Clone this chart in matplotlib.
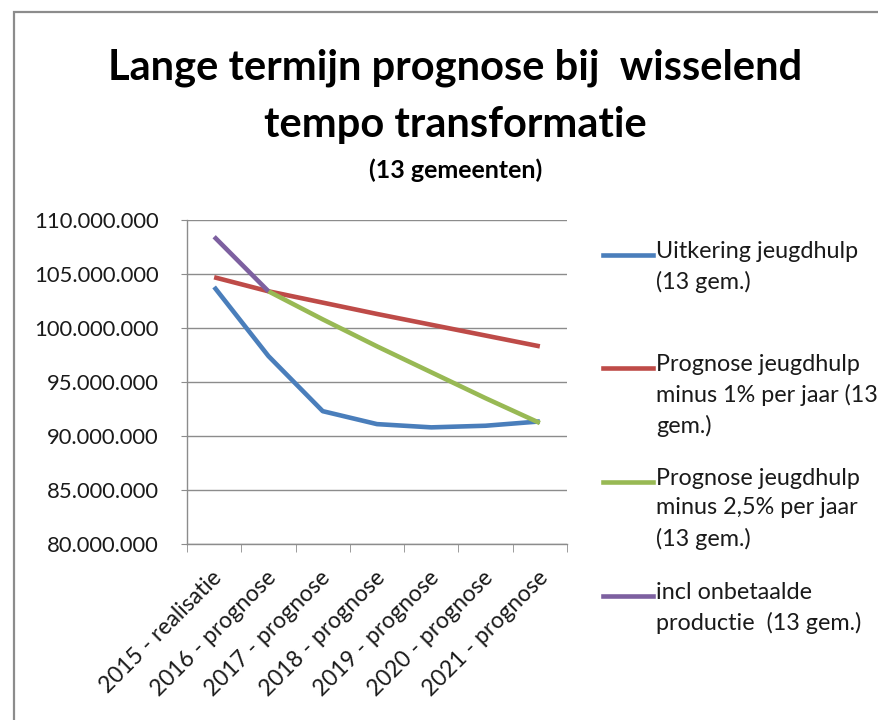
import matplotlib
matplotlib.use("Agg")
import matplotlib.pyplot as plt
import matplotlib.transforms as mtrans
from matplotlib.lines import Line2D
from matplotlib.patches import Rectangle
import numpy as np

categories = ["2015 - realisatie", "2016 - prognose", "2017 - prognose", "2018 - prognose",
              "2019 - prognose", "2020 - prognose", "2021 - prognose"]
uitkering = [103.8e6, 97.4e6, 92.3e6, 91.1e6, 90.8e6, 90.95e6, 91.35e6]
min1 = [104.7e6, 103.4e6, 102.35e6, 101.3e6, 100.3e6, 99.3e6, 98.3e6]
min25 = [np.nan, 103.4e6, 100.8e6, 98.3e6, 95.9e6, 93.5e6, 91.2e6]
onbetaald = [108.45e6, 103.4e6, np.nan, np.nan, np.nan, np.nan, np.nan]

labels = ["Uitkering jeugdhulp\n(13 gem.)",
          "Prognose jeugdhulp\nminus 1% per jaar (13\ngem.)",
          "Prognose jeugdhulp\nminus 2,5% per jaar\n(13 gem.)",
          "incl onbetaalde\nproductie  (13 gem.)"]
colors = ["#4A7EBB", "#BE4B48", "#98B954", "#7D60A0"]
yticks = [80e6, 85e6, 90e6, 95e6, 100e6, 105e6, 110e6]

FONT = "Lato"
plt.rcParams['font.family'] = [FONT, 'DejaVu Sans']

W, H = 879, 720
fig = plt.figure(figsize=(W/100, H/100), dpi=100)

# outer frame
fig.patches.append(Rectangle((14/W, -0.1), 1.2, 1 - 12/H + 0.1, transform=fig.transFigure,
                             fill=False, edgecolor="#8C8C8C", linewidth=1.6))

ax = fig.add_axes([187/W, 1-544/H, (567-187)/W, (544-220)/H])
x = np.arange(len(categories))
for ser, c in zip([uitkering, min1, min25, onbetaald], colors):
    ax.plot(x, ser, color=c, lw=3.3, solid_capstyle='butt', zorder=3)

ax.set_ylim(80e6, 110e6)
ax.set_xlim(-0.5, len(categories) - 0.5)
ax.set_yticks(yticks)
ax.set_yticklabels([f"{v:,.0f}".replace(",", ".") for v in yticks], fontsize=15.8, color="#1a1a1a")
ax.yaxis.grid(True, color="#8C8C8C", lw=1.0)
ax.set_axisbelow(True)
ax.set_xticks(x)
ax.set_xticklabels(categories, rotation=45, ha='right', rotation_mode='anchor', fontsize=16.5,
                   color="#1a1a1a")
ax.tick_params(axis='x', length=0, pad=5)
offset = mtrans.ScaledTranslation(-3/100, -16/100, fig.dpi_scale_trans)
for lbl in ax.get_xticklabels():
    lbl.set_transform(lbl.get_transform() + offset)
ax.set_xticks(np.arange(len(categories) + 1) - 0.5, minor=True)
ax.tick_params(axis='x', which='minor', length=6, color="#8C8C8C")
ax.tick_params(axis='y', length=4.5, color="#8C8C8C", pad=16)
for s in ["top", "right"]:
    ax.spines[s].set_visible(False)
for s in ["left", "bottom"]:
    ax.spines[s].set_color("#8C8C8C")
    ax.spines[s].set_linewidth(1.0)

# titles
fig.text(455/W, 1-68/H, "Lange termijn prognose bij  wisselend", ha='center', va='center',
         fontsize=30, fontweight='bold', color="black")
fig.text(455/W, 1-125/H, "tempo transformatie", ha='center', va='center',
         fontsize=30, fontweight='bold', color="black")
fig.text(456/W, 1-170/H, "(13 gemeenten)", ha='center', va='center',
         fontsize=18, fontweight='bold', color="black")

# legend
ly = [255, 368, 482, 596]
for lab, c, yy in zip(labels, colors, ly):
    fig.add_artist(Line2D([603/W, 653/W], [1-yy/H, 1-yy/H], color=c, lw=3.3,
                          transform=fig.transFigure))
    fig.text(656/W, 1-(yy-14)/H, lab, ha='left', va='top', fontsize=16.8, color="#1a1a1a",
             linespacing=1.5)

fig.savefig("out.png", dpi=100, facecolor="white")
